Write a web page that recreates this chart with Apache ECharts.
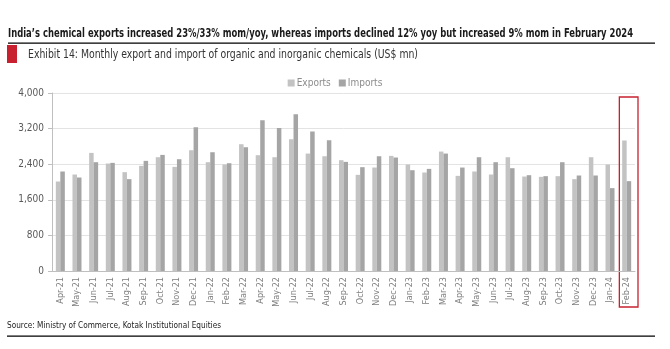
<!DOCTYPE html>
<html><head><meta charset="utf-8">
<script src="https://cdn.jsdelivr.net/npm/echarts@6/dist/echarts.min.js"></script>
<style>html,body{margin:0;padding:0;background:#fff}#c{width:670px;height:349px}</style>
</head><body><div id="c"></div>
<script>
var months = ['Apr-21','May-21','Jun-21','Jul-21','Aug-21','Sep-21','Oct-21','Nov-21','Dec-21','Jan-22','Feb-22','Mar-22',
'Apr-22','May-22','Jun-22','Jul-22','Aug-22','Sep-22','Oct-22','Nov-22','Dec-22','Jan-23','Feb-23','Mar-23',
'Apr-23','May-23','Jun-23','Jul-23','Aug-23','Sep-23','Oct-23','Nov-23','Dec-23','Jan-24','Feb-24'];
var exportsData = [2011,2168,2654,2415,2221,2363,2557,2340,2714,2445,2393,2849,
2602,2557,2961,2639,2579,2490,2161,2325,2587,2393,2213,2684,
2138,2236,2168,2557,2123,2116,2131,2064,2557,2393,2931];
var importsData = [2236,2101,2445,2430,2064,2475,2609,2512,3230,2669,2422,2781,
3387,3215,3521,3133,2938,2452,2333,2579,2550,2265,2295,2639,
2325,2557,2445,2310,2153,2131,2445,2146,2146,1862,2019];
var yTicks = [0,800,1600,2400,3200,4000];

var FONT = '"Liberation Sans Narrow","DejaVu Sans Condensed","Roboto Condensed","Arial Narrow",Roboto,sans-serif';
var measureCtx = document.createElement('canvas').getContext('2d');
function fitText(text, font, x, y, targetW, fill){
  measureCtx.font = font;
  var w = measureCtx.measureText(text).width;
  return {type:'text', x:x, y:y, scaleX: targetW / w,
    style:{text:text, font:font, fill:fill, x:0, y:0, textVerticalAlign:'top', verticalAlign:'top'}};
}
var chart = echarts.init(document.getElementById('c'));
chart.setOption({
  animation:false,
  textStyle:{fontFamily:FONT},
  legend:{top:73,left:'center',itemWidth:7,itemHeight:7,itemGap:8,icon:'rect',
    textStyle:{color:'#8c8c8c',fontSize:10,fontFamily:FONT,padding:[0,0,0,-3]},
    data:['Exports','Imports']},
  grid:{left:52,right:35,top:93,bottom:78},
  xAxis:{type:'category',data:months,
    axisLine:{lineStyle:{color:'#bfbfbf'}},axisTick:{show:false},
    axisLabel:{rotate:90,interval:0,fontSize:9,color:'#7f7f7f',margin:6,fontFamily:FONT}},
  yAxis:{type:'value',min:yTicks[0],max:yTicks[yTicks.length-1],interval:800,
    axisLine:{show:true,lineStyle:{color:'#bfbfbf'}},
    axisTick:{show:true,length:4,lineStyle:{color:'#bfbfbf'}},
    splitLine:{lineStyle:{color:'#e3e3e3'}},
    axisLabel:{fontSize:10,color:'#595959',margin:8,fontFamily:FONT,
      formatter:function(v){return v.toLocaleString('en-US');}}},
  series:[
    {name:'Exports',type:'bar',data:exportsData,itemStyle:{color:'#c3c3c3'},barGap:'0%',barCategoryGap:'46%'},
    {name:'Imports',type:'bar',data:importsData,itemStyle:{color:'#a5a5a5'},barGap:'0%',barCategoryGap:'46%'}
  ]
});
var p0 = chart.convertToPixel({xAxisIndex:0,yAxisIndex:0},[months.length-1,yTicks[yTicks.length-1]]);
var halfCat = (583/months.length)/2;
chart.setOption({graphic:[
  fitText('India\u2019s chemical exports increased 23%/33% mom/yoy, whereas imports declined 12% yoy but increased 9% mom in February 2024',
     'bold 12px '+FONT, 8, 28, 625, '#1a1a1a'),
  {type:'rect',shape:{x:8,y:42.5,width:647,height:1.3},style:{fill:'#000'}},
  {type:'rect',shape:{x:7,y:45,width:10,height:18},style:{fill:'#c8202f'}},
  fitText('Exhibit 14: Monthly export and import of organic and inorganic chemicals (US$ mn)',
     '12px '+FONT, 28, 49, 390, '#333'),
  {type:'rect',shape:{x:p0[0]-halfCat+1,y:97,width:halfCat*2+2,height:210},
     style:{fill:'none',stroke:'#c8202f',lineWidth:1.3}},
  fitText('Source: Ministry of Commerce, Kotak Institutional Equities','9.5px '+FONT, 7, 321, 214, '#222'),
  {type:'rect',shape:{x:7,y:335.5,width:648,height:1.2},style:{fill:'#000'}}
]});
</script></body></html>
